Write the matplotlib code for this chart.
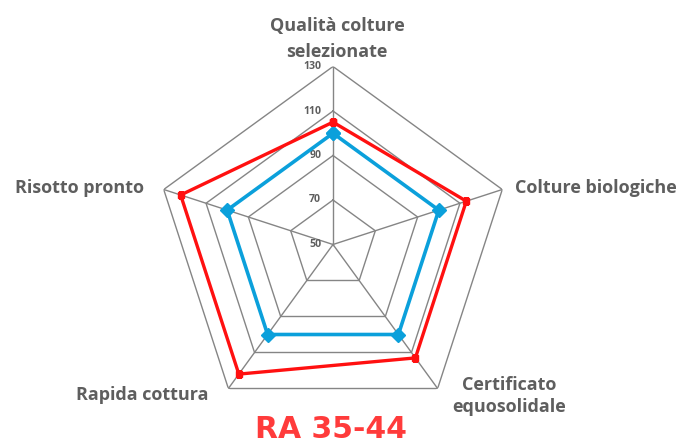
import numpy as np
import matplotlib
matplotlib.use("Agg")
import matplotlib.pyplot as plt

categories = ["Qualità colture\nselezionate", "Colture biologiche",
              "Certificato\nequosolidale", "Rapida cottura", "Risotto pronto"]
series_red = [105, 113, 113, 122, 122]
series_blue = [100, 100, 100, 100, 100]
ring_ticks = [50, 70, 90, 110, 130]
title = "RA 35-44"

W, H = 691, 441
fig = plt.figure(figsize=(W / 100, H / 100), dpi=100)

cx, cy, R = 333, 244.5, 178
ax = fig.add_axes([(cx - R) / W, (H - (cy + R)) / H, 2 * R / W, 2 * R / H],
                  projection="polar")
ax.set_theta_offset(np.pi / 2)
ax.set_theta_direction(-1)
ax.set_ylim(ring_ticks[0], ring_ticks[-1])
ax.grid(False)
ax.spines["polar"].set_visible(False)
ax.set_xticks([])
ax.set_yticks([])
ax.patch.set_alpha(0)

n = len(categories)
angles = np.arange(n) * 2 * np.pi / n
closed = np.append(angles, angles[0])

grid_col = "#858585"
for r in ring_ticks[1:]:
    ax.plot(closed, [r] * (n + 1), color=grid_col, lw=1.0, zorder=1)
for a in angles:
    ax.plot([a, a], [ring_ticks[0], ring_ticks[-1]], color=grid_col, lw=1.0, zorder=1)

text_col = "#5E5E5E"
font = "Open Sans"
for r in ring_ticks:
    ax.annotate(str(r), xy=(0, r), xytext=(-8.5, 0), textcoords="offset points",
                ha="right", va="center", fontsize=7.6, fontweight="bold",
                color=text_col, family=font)

ax.plot(closed, series_blue + series_blue[:1], color="#0BA0DB", lw=2.6,
        marker="D", markersize=7.5, zorder=3)
ax.plot(closed, series_red + series_red[:1], color="#FF1010", lw=2.4,
        marker="s", markersize=5, zorder=4)

lab_kw = dict(fontsize=13.0, fontweight="bold", color=text_col, family=font)
# (x, last-line baseline y, ha, linespacing) in pixels from top-left
pos = [(337, 57, "center", 1.58), (515, 192.7, "left", 1.0),
       (509, 411.7, "center", 1.28), (209, 400, "right", 1.0),
       (144, 192.7, "right", 1.0)]
for lab, (x, y, ha, ls) in zip(categories, pos):
    fig.text(x / W, 1 - y / H, lab, ha=ha, va="baseline", ma="center",
             linespacing=ls, **lab_kw)

fig.text(331 / W, 1 - 437.5 / H, title, ha="center", va="baseline",
         fontsize=21.5, fontweight="bold", color="#FF3B3B", family="DejaVu Sans")

fig.savefig("out.png", dpi=100)
